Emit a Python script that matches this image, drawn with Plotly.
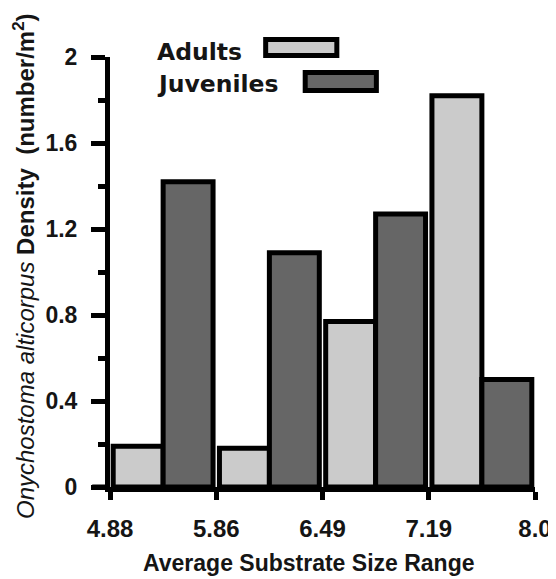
import plotly.graph_objects as go

# ---- data ----
edge_labels = ["4.88", "5.86", "6.49", "7.19", "8.0"]
bin_index = [0, 1, 2, 3]
adults = [0.19, 0.18, 0.77, 1.82]
juveniles = [1.42, 1.09, 1.27, 0.50]
series_names = ["Adults", "Juveniles"]
y_ticks = [0, 0.4, 0.8, 1.2, 1.6, 2]
y_minor = [0.2, 0.6, 1.0, 1.4, 1.8]

light = "#cbcbcb"
dark = "#666666"
ink = "#151515"
FONT = "Liberation Sans, Arial, sans-serif"
LEGFONT = "DejaVu Sans, sans-serif"

centers = [i + 0.5 for i in bin_index]
edges = list(range(len(edge_labels)))

fig = go.Figure()
fig.add_trace(go.Bar(x=centers, y=adults, name=series_names[0],
                     marker=dict(color=light, line=dict(color="black", width=5))))
fig.add_trace(go.Bar(x=centers, y=juveniles, name=series_names[1],
                     marker=dict(color=dark, line=dict(color="black", width=5))))

# the page body has an 8px default margin; lay out in page pixels
OFF = 8
W, H = 556, 579
PL, PR, PT, PB = 110, 540, 57, 487          # plot area in page pixels
L, T = PL - OFF, PT - OFF
R, B = W - (PR - OFF), H - (PB - OFF)
pw, ph = PR - PL, PB - PT

def px(xp):
    return (xp - PL) / pw

def py(yp):
    return (PB - yp) / ph

fig.update_layout(
    width=W, height=H,
    margin=dict(l=L, r=R, t=T, b=B),
    plot_bgcolor="white", paper_bgcolor="white",
    barmode="group", bargap=0.06, bargroupgap=0.0,
    showlegend=False,
    font=dict(family=FONT, color=ink, size=20),
)

fig.update_xaxes(
    range=[0, 4], tickvals=edges, ticktext=["<b>%s</b>" % t for t in edge_labels],
    showline=True, linecolor="black", linewidth=5,
    ticks="outside", ticklen=8, tickwidth=5, tickcolor="black",
    tickfont=dict(size=24, family=FONT, color=ink),
    ticklabelstandoff=8,
    showgrid=False, zeroline=False,
)
fig.update_yaxes(
    range=[0, 2], tickvals=y_ticks,
    ticktext=["<b>%g</b>" % v for v in y_ticks],
    showline=True, linecolor="black", linewidth=5,
    ticks="outside", ticklen=14, tickwidth=5, tickcolor="black",
    minor=dict(tickvals=y_minor, ticks="outside", ticklen=7,
               tickwidth=5, tickcolor="black", showgrid=False),
    tickfont=dict(size=23, family=FONT, color=ink),
    ticklabelstandoff=9,
    showgrid=False, zeroline=False,
)

# axis titles
fig.add_annotation(
    xref="paper", yref="paper", x=px(23), y=py(266), textangle=-90,
    showarrow=False, xanchor="center", yanchor="middle",
    text="<i>Onychostoma alticorpus</i> <b>Density\u00a0\u00a0(number/m<sup>2</sup>)</b>",
    font=dict(size=24, family=FONT, color=ink),
)
fig.add_annotation(
    xref="paper", yref="paper", x=px(311.5), y=py(563),
    showarrow=False, xanchor="center", yanchor="middle",
    text="<b>Average Substrate Size Range</b>",
    font=dict(size=23, family=FONT, color=ink),
)

# x axis extension to the left
fig.add_shape(type="line", xref="paper", yref="paper", x0=px(92), x1=0, y0=0, y1=0,
              line=dict(color="black", width=5))

# legend drawn manually
fig.add_annotation(xref="paper", yref="paper", x=px(156), y=py(52), xanchor="left",
                   yanchor="middle", showarrow=False, text="<b>Adults</b>",
                   font=dict(size=23.5, family=LEGFONT, color=ink))
fig.add_annotation(xref="paper", yref="paper", x=px(156), y=py(84), xanchor="left",
                   yanchor="middle", showarrow=False, text="<b>Juveniles</b>",
                   font=dict(size=23.5, family=LEGFONT, color=ink))
fig.add_shape(type="rect", xref="paper", yref="paper", x0=px(267.5), x1=px(339.5),
              y0=py(55.5), y1=py(39.5), fillcolor=light, line=dict(color="black", width=5))
fig.add_shape(type="rect", xref="paper", yref="paper", x0=px(307.5), x1=px(379.5),
              y0=py(90.5), y1=py(72.5), fillcolor=dark, line=dict(color="black", width=5))

fig.write_html("out.html")
